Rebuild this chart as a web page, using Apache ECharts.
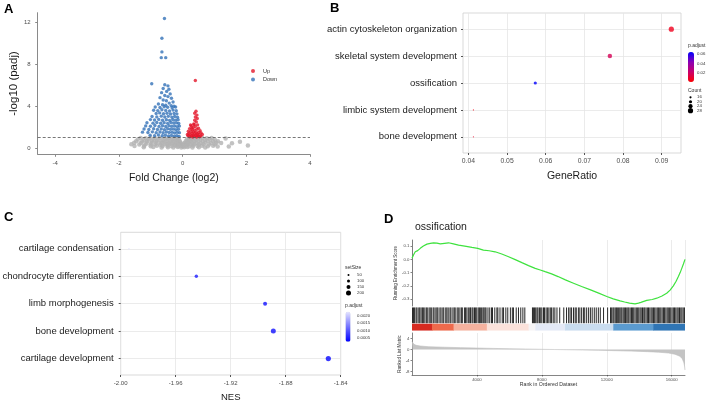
<!DOCTYPE html>
<html>
<head>
<meta charset="utf-8">
<title>volcano / GO / GSEA</title>
<script src="https://cdn.jsdelivr.net/npm/echarts@6/dist/echarts.min.js"></script>
<style>
  html, body { margin: 0; padding: 0; background: #fff; }
  #chart { width: 709px; height: 401px; }
</style>
</head>
<body>
<div id="chart"></div>
<script>
// ---------- A : volcano ----------
const grayPts = [
  [-1.32,0.97],[-1.16,0.94],[-1.01,0.98],[-0.86,0.93],[-0.71,0.96],[-0.57,0.92],[-0.44,0.97],[-0.32,0.94],[-0.22,0.96],[-0.16,0.92],
  [-1.41,0.81],[-1.22,0.78],[-1.06,0.83],[-0.91,0.79],[-0.76,0.82],[-0.61,0.78],[-0.48,0.83],[-0.36,0.79],[-0.25,0.81],[-0.16,0.78],[-0.11,0.8],
  [-1.46,0.66],[-1.27,0.63],[-1.11,0.67],[-0.96,0.64],[-0.81,0.66],[-0.66,0.62],[-0.51,0.67],[-0.39,0.63],[-0.28,0.66],[-0.19,0.62],[-0.12,0.65],[-0.08,0.61],
  [-1.52,0.5],[-1.31,0.48],[-1.13,0.52],[-0.98,0.47],[-0.83,0.51],[-0.69,0.48],[-0.56,0.52],[-0.43,0.47],[-0.31,0.51],[-0.21,0.48],[-0.13,0.52],[-0.06,0.47],
  [-1.61,0.36],[-1.36,0.33],[-1.16,0.37],[-1.01,0.34],[-0.86,0.36],[-0.71,0.32],[-0.58,0.37],[-0.46,0.33],[-0.34,0.36],[-0.24,0.32],[-0.15,0.35],[-0.08,0.33],[-0.03,0.36],
  [-1.51,0.2],[-1.21,0.22],[-1.0,0.18],[-0.81,0.21],[-0.63,0.19],[-0.48,0.22],[-0.35,0.18],[-0.23,0.21],[-0.13,0.19],[-0.05,0.22],[0.0,0.18],
  [-1.22,0.07],[-0.92,0.09],[-0.66,0.06],[-0.46,0.08],[-0.29,0.05],[-0.15,0.09],[-0.04,0.06],
  [0.19,0.96],[0.27,0.93],[0.36,0.97],[0.48,0.92],[0.62,0.96],[0.76,0.93],[0.91,0.97],
  [0.13,0.8],[0.2,0.78],[0.29,0.82],[0.41,0.79],[0.56,0.81],[0.71,0.78],[0.86,0.82],[1.01,0.79],
  [0.1,0.66],[0.16,0.63],[0.25,0.67],[0.36,0.64],[0.49,0.66],[0.63,0.62],[0.79,0.67],[0.96,0.64],[1.11,0.66],
  [0.07,0.5],[0.13,0.48],[0.21,0.52],[0.31,0.47],[0.43,0.51],[0.56,0.48],[0.71,0.52],[0.89,0.47],[1.06,0.51],[1.21,0.48],
  [0.04,0.36],[0.09,0.33],[0.16,0.37],[0.26,0.34],[0.37,0.36],[0.51,0.32],[0.66,0.37],[0.83,0.33],[1.01,0.36],
  [0.03,0.2],[0.11,0.22],[0.21,0.18],[0.33,0.21],[0.47,0.19],[0.61,0.22],[0.79,0.18],[0.96,0.21],
  [0.05,0.07],[0.15,0.09],[0.31,0.06],[0.51,0.08],[0.71,0.05],
  [1.35,0.9],[1.55,0.45],[1.8,0.6],[2.05,0.25],[1.45,0.15],[1.1,0.15]
]
const downPts = [
  [-0.57,12.4],[-0.65,10.5],[-0.65,9.2],[-0.67,8.65],[-0.53,8.65],
  [-0.97,6.15],[-0.56,6.05],[-0.46,5.95],[-0.61,5.7],[-0.43,5.62],[-0.5,5.42],[-0.66,5.3],[-0.39,5.18],[-0.56,5.02],[-0.46,4.92],
  [-0.71,4.82],[-0.35,4.76],[-0.61,4.6],[-0.51,4.52],[-0.3,4.41],[-0.42,4.3],[-0.76,4.22],[-0.63,4.15],[-0.53,4.1],[-0.36,4.06],[-0.27,4.0],
  [-0.86,3.92],[-0.71,3.88],[-0.58,3.95],[-0.47,3.9],[-0.33,3.86],[-0.22,3.93],
  [-0.91,3.62],[-0.78,3.58],[-0.65,3.66],[-0.53,3.6],[-0.41,3.55],[-0.3,3.63],[-0.2,3.57],
  [-0.83,3.3],[-0.72,3.36],[-0.6,3.28],[-0.49,3.33],[-0.38,3.25],[-0.27,3.31],[-0.18,3.27],
  [-0.96,3.02],[-0.81,2.98],[-0.67,3.05],[-0.56,2.97],[-0.45,3.03],[-0.34,2.96],[-0.25,3.01],[-0.16,2.95],
  [-1.01,2.72],[-0.88,2.68],[-0.75,2.74],[-0.63,2.66],[-0.51,2.71],[-0.41,2.65],[-0.31,2.73],[-0.22,2.67],[-0.14,2.7],
  [-1.12,2.42],[-0.93,2.38],[-0.81,2.45],[-0.69,2.37],[-0.58,2.43],[-0.47,2.36],[-0.37,2.44],[-0.28,2.39],[-0.19,2.41],[-0.12,2.35],
  [-1.16,2.12],[-1.01,2.08],[-0.87,2.15],[-0.74,2.07],[-0.63,2.13],[-0.53,2.06],[-0.43,2.14],[-0.34,2.09],[-0.25,2.11],[-0.17,2.05],[-0.1,2.1],
  [-1.21,1.82],[-1.06,1.78],[-0.91,1.85],[-0.79,1.77],[-0.67,1.83],[-0.57,1.76],[-0.47,1.84],[-0.38,1.79],[-0.29,1.81],[-0.21,1.75],[-0.13,1.8],
  [-1.26,1.52],[-1.09,1.48],[-0.95,1.55],[-0.83,1.47],[-0.71,1.53],[-0.61,1.46],[-0.51,1.54],[-0.42,1.49],[-0.33,1.51],[-0.25,1.45],[-0.17,1.5],[-0.1,1.47],
  [-1.02,1.22],[-0.88,1.18],[-0.76,1.25],[-0.64,1.17],[-0.54,1.23],[-0.44,1.16],[-0.35,1.21],[-0.26,1.14],[-0.18,1.19],[-0.11,1.12]
]
const upPts = [
  [0.4,6.46],[0.42,3.52],[0.38,3.33],[0.45,3.15],[0.4,2.97],[0.46,2.82],[0.38,2.66],[0.43,2.5],[0.35,2.3],[0.47,2.22],
  [0.27,2.12],[0.4,2.06],[0.33,1.96],[0.5,1.9],[0.22,1.86],[0.45,1.8],[0.3,1.76],[0.38,1.7],[0.55,1.65],[0.18,1.6],
  [0.26,1.58],[0.34,1.55],[0.42,1.5],[0.5,1.48],[0.58,1.44],[0.2,1.42],[0.3,1.4],[0.38,1.36],[0.46,1.34],[0.15,1.3],
  [0.24,1.28],[0.33,1.25],[0.52,1.27],[0.62,1.3],[0.42,1.22],[0.17,1.18],[0.28,1.15],[0.37,1.12],[0.48,1.16],[0.57,1.14],
  [0.22,1.08],[0.32,1.06],[0.44,1.05],[0.53,1.07],[0.25,2.2],[0.36,2.25],[0.29,1.9]
]
const padjCut = 1
const geneNames = ['Reln', 'Prkg1', 'Thrb', 'Magi2', 'Akap6', 'Sox6', 'Runx2']
const genePos = [[-1.14, 8.5], [-0.93, 4.7], [-0.86, 2.87], [-1.24, 2.39], [-0.39, 1.81], [-1.33, 1.49], [-0.54, 0.96]]
const volcanoXTicks = [-4, -2, 0, 2, 4]
const volcanoYTicks = [0, 4, 8, 12]

// ---------- B : GO dot plot ----------
const goTerms = ['actin cytoskeleton organization', 'skeletal system development', 'ossification', 'limbic system development', 'bone development']
const goRatio = [0.0925, 0.0766, 0.0573, 0.0413, 0.0413]
const goPadj = [0.006, 0.017, 0.064, 0.004, 0.008]
const goCount = [28, 25, 20, 12, 12]
const goXTicks = [0.04, 0.05, 0.06, 0.07, 0.08, 0.09]
const goPadjLegend = [0.06, 0.04, 0.02]
const goCountLegend = [16, 20, 24, 28]

// ---------- C : GSEA dot plot ----------
const gseaTerms = ['cartilage condensation', 'chondrocyte differentiation', 'limb morphogenesis', 'bone development', 'cartilage development']
const gseaNES = [-1.994, -1.945, -1.895, -1.889, -1.849]
const gseaPadj = [0.0022, 0.0005, 0.0004, 0.0004, 0.0003]
const gseaSetSize = [20, 120, 150, 200, 210]
const gseaPadjLegend = [0.002, 0.0015, 0.001, 0.0005]
const setSizeLegend = [50, 100, 150, 200]

// ---------- D : GSEA running score ----------
const esRank = [0, 100, 200, 350, 510, 700, 920, 1130, 1330, 1540, 1740, 2000, 2250, 2550, 2870, 3250, 3690, 4050, 4400, 4750,
  5120, 5530, 5950, 6360, 6770, 7180, 7590, 7900, 8200, 8600, 9000, 9450, 9950, 10450, 11000, 11500, 12000, 12400, 12820, 13100,
  13400, 13740, 13950, 14100, 14460, 14800, 15080, 15400, 15690, 15900, 16100, 16270, 16410, 16520, 16620, 16720, 16818]
const esScore = [0.008, 0.035, 0.057, 0.066, 0.083, 0.1, 0.115, 0.121, 0.125, 0.122, 0.117, 0.121, 0.125, 0.117, 0.107, 0.1, 0.09, 0.083, 0.07, 0.065,
  0.057, 0.04, 0.02, -0.002, -0.025, -0.047, -0.068, -0.08, -0.093, -0.11, -0.13, -0.155, -0.18, -0.205, -0.23, -0.255, -0.28, -0.298, -0.313, -0.322,
  -0.33, -0.336, -0.33, -0.325, -0.31, -0.303, -0.293, -0.277, -0.256, -0.232, -0.2, -0.165, -0.13, -0.1, -0.068, -0.035, 0.0]
const hitRank = [30, 95, 160, 250, 310, 420, 480, 560, 640, 700, 790, 880, 940, 1050, 1120, 1190, 1300, 1360, 1470, 1540, 1600, 1720, 1790,
  1900, 1960, 2080, 2150, 2230, 2340, 2400, 2520, 2600, 2660, 2780, 2850, 2950, 3040, 3100, 3230, 3300, 3380, 3470, 3560, 3610, 3700, 3760,
  3850, 3920, 3990, 4080, 4150, 4210, 4290, 4370, 4430, 4500, 4560, 4680, 4790, 4900, 4960, 5100, 5230, 5290, 5420, 5560, 5640, 5780, 5900,
  6060, 6180, 6250, 6420, 6560, 6700, 6830, 6950, 7420, 7480, 7550, 7620, 7700, 7760, 7850, 7930, 8000, 8100, 8160, 8260, 8340, 8430, 8520,
  8600, 8700, 8800, 8930, 9100, 9350, 9520, 9650, 9740, 9830, 9950, 10050, 10120, 10250, 10340, 10450, 10560, 10640, 10760, 10880, 10990,
  11100, 11230, 11350, 11480, 11600, 11800, 12050, 12230, 12300, 12380, 12440, 12520, 12590, 12650, 12730, 12800, 12870, 12930, 13010, 13080,
  13150, 13230, 13300, 13360, 13440, 13520, 13590, 13660, 13740, 13820, 13900, 13970, 14050, 14120, 14200, 14280, 14340, 14420, 14500, 14570,
  14650, 14730, 14800, 14880, 14950, 15030, 15110, 15180, 15260, 15330, 15410, 15490, 15560, 15640, 15720, 15790, 15870, 15940, 16020, 16100,
  16170, 16250, 16330, 16400, 16480, 16560, 16630, 16710, 16790]
const bandStart = [0, 1230, 2560, 4610, 7180, 7600, 9430, 12400, 14860]
const bandEnd = [1230, 2560, 4610, 7180, 7600, 9430, 12400, 14860, 16818]
const bandLevel = [4, 3, 2, 1, 0, -1, -2, -3, -4]
const metricRank = [0, 40, 120, 250, 500, 1000, 2000, 3000, 4000, 5000, 6000, 7000, 8000, 8800, 9500, 10500, 11500, 12500, 13500,
  14500, 15200, 15800, 16200, 16500, 16650, 16750, 16800, 16818]
const metricValue = [2.9, 2.4, 1.9, 1.55, 1.3, 1.05, 0.85, 0.7, 0.55, 0.42, 0.3, 0.2, 0.1, 0.02, -0.05, -0.15, -0.27, -0.4, -0.55,
  -0.75, -0.95, -1.25, -1.7, -2.4, -3.3, -4.8, -6.3, -7.4]
const rankTicks = [4000, 8000, 12000, 16000]
const esTicks = [-0.3, -0.2, -0.1, 0, 0.1]
const metricTicks = [-8, -4, 0, 4]

// ---------- helpers ----------
const FONT = 'Liberation Sans, Arial, sans-serif'
const goColors = ['#ff0000', '#c9006b', '#8a00b5', '#0000ff']
const gseaColors = ['#0000ff', '#e6e6ff']
const bandColors = ['#2f75b5', '#5b9bd0', '#c9dcef', '#e4e9f6', '#f6f4f6', '#fbe2db', '#f5b29f', '#ee6a4c', '#d62a20']
const goSize = c => 1.2 + (c - 12) * 0.25
const gseaSize = s => 1 + s * 0.02
const rankMax = 16818
const gridLine = {show: true, lineStyle: {color: '#e6e6e6', width: 0.8}}

const goData = goTerms.map((t, i) => [goRatio[i], i, goPadj[i], goCount[i]])
const gseaData = gseaTerms.map((t, i) => [gseaNES[i], i, gseaPadj[i], gseaSetSize[i]])
const esData = esRank.map((r, i) => [r, esScore[i]])
const metricData = metricRank.map((r, i) => [r, metricValue[i]])
const bandData = bandStart.map((s, i) => [s, bandEnd[i], bandLevel[i]])
const hitData = hitRank.map(r => [r, 0])
const geneData = geneNames.map((n, i) => ({name: n, value: genePos[i]}))

const tickLbl = {fontFamily: FONT, color: '#4d4d4d'}

function catLabel(names) {
  return v => {
    const k = Math.round(v)
    return Math.abs(v - k) < 1e-6 && names[k] ? names[k] : ''
  }
}

// legend graphics for B and C
const graphic = []
const txt = (x, y, s, size) => ({type: 'text', x: x, y: y, silent: true,
  style: {text: s, fontSize: size, fontFamily: FONT, fill: '#333', verticalAlign: 'middle', align: 'left'}})
graphic.push(txt(688, 45.5, 'p.adjust', 5))
goPadjLegend.forEach(v => graphic.push(txt(697, 82 - v / 0.0645 * 30, v.toFixed(2), 4.3)))
graphic.push(txt(688, 90.5, 'Count', 5))
goCountLegend.forEach((c, i) => {
  graphic.push({type: 'circle', silent: true, shape: {cx: 690.5, cy: 97.3 + i * 4.45, r: goSize(c) / 2}, style: {fill: '#000'}})
  graphic.push(txt(697, 97.3 + i * 4.45, String(c), 4.3))
})
graphic.push(txt(345, 267.7, 'setSize', 5))
setSizeLegend.forEach((s, i) => {
  graphic.push({type: 'circle', silent: true, shape: {cx: 348.5, cy: 275 + i * 6, r: gseaSize(s) / 2}, style: {fill: '#000'}})
  graphic.push(txt(357, 275 + i * 6, String(s), 4.3))
})
graphic.push(txt(345, 305.5, 'p.adjust', 5))
gseaPadjLegend.forEach(v => graphic.push(txt(357, 341.7 - (v - 0.00025) / 0.002 * 30, v.toFixed(4), 4.3)))

const dGridX = {left: 412, width: 273}

const options = {
  animation: false,
  textStyle: {fontFamily: FONT},
  title: [
    {text: 'A', left: 4, top: 3, padding: 0, textStyle: {fontSize: 13, fontWeight: 'bold', color: '#000', fontFamily: FONT}},
    {text: 'B', left: 330, top: 2, padding: 0, textStyle: {fontSize: 13, fontWeight: 'bold', color: '#000', fontFamily: FONT}},
    {text: 'C', left: 4, top: 211, padding: 0, textStyle: {fontSize: 13, fontWeight: 'bold', color: '#000', fontFamily: FONT}},
    {text: 'D', left: 384, top: 213, padding: 0, textStyle: {fontSize: 13, fontWeight: 'bold', color: '#000', fontFamily: FONT}},
    {text: 'ossification', left: 415, top: 222, padding: 0, textStyle: {fontSize: 10.5, fontWeight: 'normal', color: '#222', fontFamily: FONT}}
  ],
  legend: {
    data: ['Up', 'Down'], orient: 'vertical', left: 251, top: 68, padding: 0,
    itemWidth: 4, itemHeight: 4, itemGap: 2.5, icon: 'circle',
    textStyle: {fontSize: 5.5, color: '#333', fontFamily: FONT, padding: [0, 0, 0, 3]}
  },
  visualMap: [
    {type: 'continuous', seriesIndex: 4, dimension: 2, min: 0, max: 0.0645, calculable: false, text: null,
      left: 688, top: 52, itemWidth: 6, itemHeight: 30, padding: 0, inRange: {color: goColors}},
    {type: 'continuous', seriesIndex: 5, dimension: 2, min: 0.00025, max: 0.00225, calculable: false, text: null,
      left: 345.5, top: 311.7, itemWidth: 5, itemHeight: 30, padding: 0, inRange: {color: gseaColors}},
    {type: 'continuous', seriesIndex: 8, dimension: 2, min: -4, max: 4, show: false, inRange: {color: bandColors}}
  ],
  graphic: graphic,
  grid: [
    {left: 37.7, top: 12.7, width: 272.3, height: 141.6, outerBoundsMode: 'none'},
    {left: 463, top: 13, width: 218, height: 140, show: true, borderColor: '#cfcfcf', borderWidth: 0.8, outerBoundsMode: 'none'},
    {left: 120.7, top: 232.3, width: 220, height: 142.7, show: true, borderColor: '#cfcfcf', borderWidth: 0.8, outerBoundsMode: 'none'},
    Object.assign({top: 240, height: 66, outerBoundsMode: 'none'}, dGridX),
    Object.assign({top: 307.3, height: 16.3, outerBoundsMode: 'none'}, dGridX),
    Object.assign({top: 323.6, height: 7.1, outerBoundsMode: 'none'}, dGridX),
    Object.assign({top: 333, height: 42, outerBoundsMode: 'none'}, dGridX)
  ],
  xAxis: [
    {gridIndex: 0, type: 'value', min: -4.55, max: 4,
      axisLine: {show: true, onZero: false, lineStyle: {color: '#8a8a8a', width: 1}},
      axisTick: {show: true, length: 2.5, customValues: volcanoXTicks, lineStyle: {color: '#8a8a8a'}},
      axisLabel: Object.assign({customValues: volcanoXTicks, fontSize: 6, margin: 6}, tickLbl),
      splitLine: {show: false},
      name: 'Fold Change (log2)', nameLocation: 'middle', nameGap: 18,
      nameTextStyle: {fontSize: 10.5, color: '#1a1a1a', fontFamily: FONT}},
    {gridIndex: 1, type: 'value', min: 0.0386, max: 0.095,
      axisLine: {show: false, onZero: false},
      axisTick: {show: true, length: 2, customValues: goXTicks, lineStyle: {color: '#555'}},
      axisLabel: Object.assign({customValues: goXTicks, fontSize: 6.8, margin: 5, formatter: v => v.toFixed(2)}, tickLbl),
      splitLine: gridLine,
      name: 'GeneRatio', nameLocation: 'middle', nameGap: 18,
      nameTextStyle: {fontSize: 10.5, color: '#1a1a1a', fontFamily: FONT}},
    {gridIndex: 2, type: 'value', min: -2.0, max: -1.84, interval: 0.04,
      axisLine: {show: false, onZero: false},
      axisTick: {show: true, length: 2, lineStyle: {color: '#555'}},
      axisLabel: Object.assign({fontSize: 6, margin: 5, formatter: v => v.toFixed(2)}, tickLbl),
      splitLine: gridLine,
      name: 'NES', nameLocation: 'middle', nameGap: 17,
      nameTextStyle: {fontSize: 9.5, color: '#1a1a1a', fontFamily: FONT}},
    {gridIndex: 3, type: 'value', min: 0, max: rankMax, interval: 4000,
      axisLine: {show: false, onZero: false}, axisTick: {show: false}, axisLabel: {show: false},
      splitLine: gridLine},
    {gridIndex: 4, type: 'value', min: 0, max: rankMax, show: false},
    {gridIndex: 5, type: 'value', min: 0, max: rankMax, show: false},
    {gridIndex: 6, type: 'value', min: 0, max: rankMax, interval: 4000,
      axisLine: {show: true, onZero: false, lineStyle: {color: '#333', width: 0.6}},
      axisTick: {show: true, length: 1.5, customValues: rankTicks, lineStyle: {color: '#333', width: 0.6}},
      axisLabel: Object.assign({customValues: rankTicks, fontSize: 4.3, margin: 2.5,
        formatter: v => (v > 0 && v % 4000 === 0 ? String(v) : '')}, tickLbl),
      splitLine: gridLine,
      name: 'Rank in Ordered Dataset', nameLocation: 'middle', nameGap: 6.5,
      nameTextStyle: {fontSize: 5.2, color: '#333', fontFamily: FONT}}
  ],
  yAxis: [
    {gridIndex: 0, type: 'value', min: -0.6, max: 12.95,
      axisLine: {show: true, onZero: false, lineStyle: {color: '#8a8a8a', width: 1}},
      axisTick: {show: true, length: 2.5, customValues: volcanoYTicks, lineStyle: {color: '#8a8a8a'}},
      axisLabel: Object.assign({customValues: volcanoYTicks, fontSize: 6, margin: 7}, tickLbl),
      splitLine: {show: false},
      name: '-log10 (padj)', nameLocation: 'middle', nameGap: 17, nameRotate: 90,
      nameTextStyle: {fontSize: 11.5, color: '#1a1a1a', fontFamily: FONT}},
    {gridIndex: 1, type: 'value', inverse: true, min: -0.6, max: 4.6,
      axisLine: {show: false, onZero: false},
      axisTick: {show: true, length: 2, customValues: [0, 1, 2, 3, 4], lineStyle: {color: '#555'}},
      axisLabel: {customValues: [0, 1, 2, 3, 4], fontSize: 9.5, margin: 6, color: '#1a1a1a', fontFamily: FONT, formatter: catLabel(goTerms)},
      splitLine: gridLine},
    {gridIndex: 2, type: 'value', inverse: true, min: -0.6, max: 4.6,
      axisLine: {show: false, onZero: false},
      axisTick: {show: true, length: 2, customValues: [0, 1, 2, 3, 4], lineStyle: {color: '#555'}},
      axisLabel: {customValues: [0, 1, 2, 3, 4], fontSize: 9.5, margin: 7, color: '#1a1a1a', fontFamily: FONT, formatter: catLabel(gseaTerms)},
      splitLine: gridLine},
    {gridIndex: 3, type: 'value', min: -0.352, max: 0.146,
      axisLine: {show: true, onZero: false, lineStyle: {color: '#333', width: 0.6}},
      axisTick: {show: true, length: 1.5, customValues: esTicks, lineStyle: {color: '#333', width: 0.6}},
      axisLabel: Object.assign({customValues: esTicks, fontSize: 4.3, margin: 2.5, formatter: v => v.toFixed(1)}, tickLbl),
      splitLine: {show: false},
      name: 'Running Enrichment Score', nameLocation: 'middle', nameGap: 10, nameRotate: 90,
      nameTextStyle: {fontSize: 4.5, color: '#333', fontFamily: FONT}},
    {gridIndex: 4, type: 'value', min: 0, max: 1, show: false},
    {gridIndex: 5, type: 'value', min: 0, max: 1, show: false},
    {gridIndex: 6, type: 'value', min: -9.2, max: 6,
      axisLine: {show: true, onZero: false, lineStyle: {color: '#333', width: 0.6}},
      axisTick: {show: true, length: 1.5, customValues: metricTicks, lineStyle: {color: '#333', width: 0.6}},
      axisLabel: Object.assign({customValues: metricTicks, fontSize: 4.3, margin: 2.5}, tickLbl),
      splitLine: {show: false},
      name: 'Ranked List Metric', nameLocation: 'middle', nameGap: 9, nameRotate: 90,
      nameTextStyle: {fontSize: 4.5, color: '#333', fontFamily: FONT}}
  ],
  series: [
    {name: 'NS', type: 'scatter', xAxisIndex: 0, yAxisIndex: 0, data: grayPts, symbolSize: 4.5,
      itemStyle: {color: '#b3b3b3'},
      markLine: {silent: true, symbol: ['none', 'none'], label: {show: false},
        lineStyle: {type: [3, 2], color: '#555', width: 0.8}, data: [{yAxis: padjCut}]}},
    {name: 'Down', type: 'scatter', xAxisIndex: 0, yAxisIndex: 0, data: downPts, symbolSize: 3.4,
      itemStyle: {color: '#3372b8'}},
    {name: 'Up', type: 'scatter', xAxisIndex: 0, yAxisIndex: 0, data: upPts, symbolSize: 3.4,
      itemStyle: {color: '#e3162b'}},
    {name: 'genes', type: 'scatter', xAxisIndex: 0, yAxisIndex: 0, data: geneData, symbolSize: 0.1,
      itemStyle: {opacity: 0}, silent: true,
      label: {show: true, position: 'inside', formatter: p => p.name, fontSize: 8.5, color: '#222', fontFamily: FONT}},
    {name: 'GO', type: 'scatter', xAxisIndex: 1, yAxisIndex: 1, data: goData,
      symbolSize: v => goSize(v[3])},
    {name: 'GSEA', type: 'scatter', xAxisIndex: 2, yAxisIndex: 2, data: gseaData,
      symbolSize: v => gseaSize(v[3])},
    {name: 'ES', type: 'line', xAxisIndex: 3, yAxisIndex: 3, data: esData, showSymbol: false,
      lineStyle: {color: '#3ee23e', width: 1.2}, itemStyle: {color: '#3ee23e'}},
    {name: 'hits', type: 'custom', xAxisIndex: 4, yAxisIndex: 4, data: hitData, clip: true,
      renderItem: (params, api) => {
        const b = api.coord([api.value(0), 0])
        const t = api.coord([api.value(0), 1])
        return {type: 'rect', shape: {x: b[0] - 0.5, y: t[1], width: 1, height: b[1] - t[1]},
          style: {fill: 'rgba(0,0,0,0.85)'}}
      }},
    {name: 'band', type: 'custom', xAxisIndex: 5, yAxisIndex: 5, data: bandData, clip: true,
      encode: {x: [0, 1]},
      renderItem: (params, api) => {
        const s = api.coord([api.value(0), 0])
        const e = api.coord([api.value(1), 1])
        return {type: 'rect', shape: {x: s[0], y: e[1], width: e[0] - s[0] + 0.5, height: s[1] - e[1]},
          style: {fill: api.visual('color')}}
      }},
    {name: 'metric', type: 'line', xAxisIndex: 6, yAxisIndex: 6, data: metricData, showSymbol: false,
      lineStyle: {color: '#bdbdbd', width: 0.6}, areaStyle: {color: '#c4c4c4', opacity: 1}}
  ]
}

const chart = echarts.init(document.getElementById('chart'))
chart.setOption(options)
window.addEventListener('resize', function () {
  chart.resize()
})
</script>
</body>
</html>
